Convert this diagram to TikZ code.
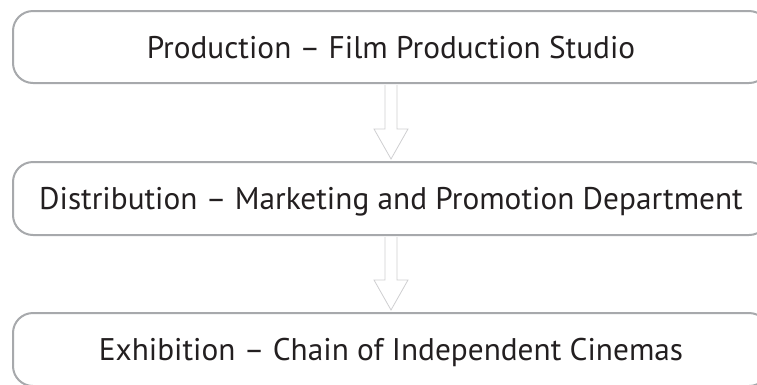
\documentclass[tikz,border=0pt]{standalone}
\usepackage{fontspec}
\setmainfont{PT Sans}
\usetikzlibrary{calc}
\definecolor{boxgray}{HTML}{A7A9AC}
\definecolor{arrgray}{HTML}{CFCFD1}
\definecolor{txt}{HTML}{231F20}
\tikzset{
  stagebox/.style={draw=boxgray, line width=2pt, fill=white, rounded corners=20pt,
    minimum width=756pt, minimum height=72pt, inner sep=0pt,
    font=\fontsize{31.3}{35}\selectfont, text=txt, text height=22pt, text depth=0pt},
  hollowarrow/.style={draw=arrgray, line width=0.8pt, fill=white, line join=miter}
}
\begin{document}
\begin{tikzpicture}[x=1pt,y=-1pt]
\useasboundingbox (0,0) rectangle (757,384);
\begin{scope}
\clip (0,0) rectangle (757,384);
\node[stagebox] (b1) at (391,47) {Production – Film Production Studio};
\node[stagebox, minimum height=73pt] (b2) at (391,198.5) {Distribution – Marketing and Promotion Department};
\node[stagebox, minimum height=73pt] (b3) at (391,349.5) {Exhibition – Chain of Independent Cinemas};
\foreach \a/\b in {b1/b2, b2/b3}{
  \draw[hollowarrow] let \p1=(\a.south), \p2=(\b.north) in
    (\x1-6pt,\y1-1pt) -- (\x1-6pt,\y2+32pt) -- (\x1-17pt,\y2+32pt) -- (\x1,\y2+2pt)
    -- (\x1+17pt,\y2+32pt) -- (\x1+6pt,\y2+32pt) -- (\x1+6pt,\y1-1pt);
}
\end{scope}
\end{tikzpicture}
\end{document}
